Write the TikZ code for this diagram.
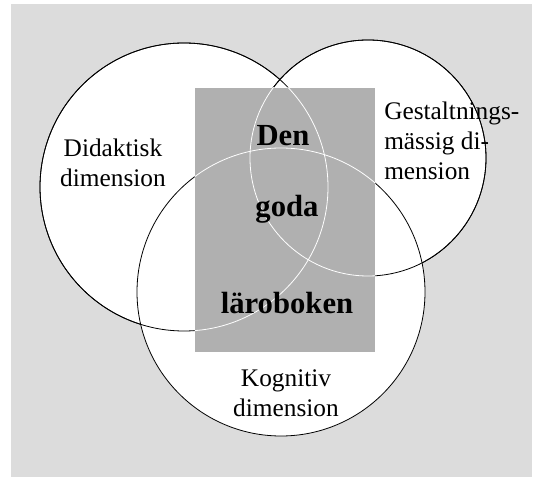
\documentclass[tikz,border=0pt]{standalone}
\usepackage{fontspec}
\setmainfont{Liberation Serif}
\usetikzlibrary{positioning}
\definecolor{bggray}{HTML}{DCDCDC}
\definecolor{boxgray}{HTML}{B0B0B0}
\tikzset{x=0.75pt, y=-0.75pt,
    ring/.style={
        circle,
        draw=black,
        fill=white,
        semithick,
        inner sep=0pt},
    label text/.style={
        font=\fontsize{19}{22.5}\selectfont,
        align=center,
        inner sep=0pt},
    core text/.style={
        font=\fontsize{23}{27}\selectfont\bfseries,
        inner sep=0pt}}

\begin{document}
\begin{tikzpicture}
        \useasboundingbox (0,0) rectangle (533,477);
        \fill[bggray] (11,4) rectangle (532,477);

        % the three dimensions
        \node[ring, minimum size=216pt] (didaktisk) at (184,187) {};
        \node[ring, minimum size=177pt] (gestalt) at (368,158) {};
        \node[ring, minimum size=216pt] (kognitiv) at (281,292) {};
        \draw[semithick] (didaktisk.center) circle[radius=108pt];
        \draw[semithick] (gestalt.center) circle[radius=88.5pt];

        % the good textbook
        \node[fill=boxgray, minimum width=135pt, minimum height=198pt,
            inner sep=0pt] (bok) at (285,220) {};
        \begin{scope}
            \clip (bok.south west) rectangle (bok.north east);
            \draw[white, semithick] (didaktisk.center) circle[radius=108pt];
            \draw[white, semithick] (gestalt.center) circle[radius=88.5pt];
            \draw[white, semithick] (kognitiv.center) circle[radius=108pt];
        \end{scope}

        \node[label text] (didtext) at (113,163) {Didaktisk\\dimension};
        \node[label text, align=left, anchor=west] (gesttext) at (384,141)
            {Gestaltnings-\\mässig di-\\mension};
        \node[label text] (kogtext) at (286,393) {Kognitiv\\dimension};

        \node[core text] (den) at (283,136) {Den};
        \node[core text] (goda) at (287,209) {goda};
        \node[core text] (laroboken) at (287,303) {läroboken};
    \end{tikzpicture}
\end{document}
